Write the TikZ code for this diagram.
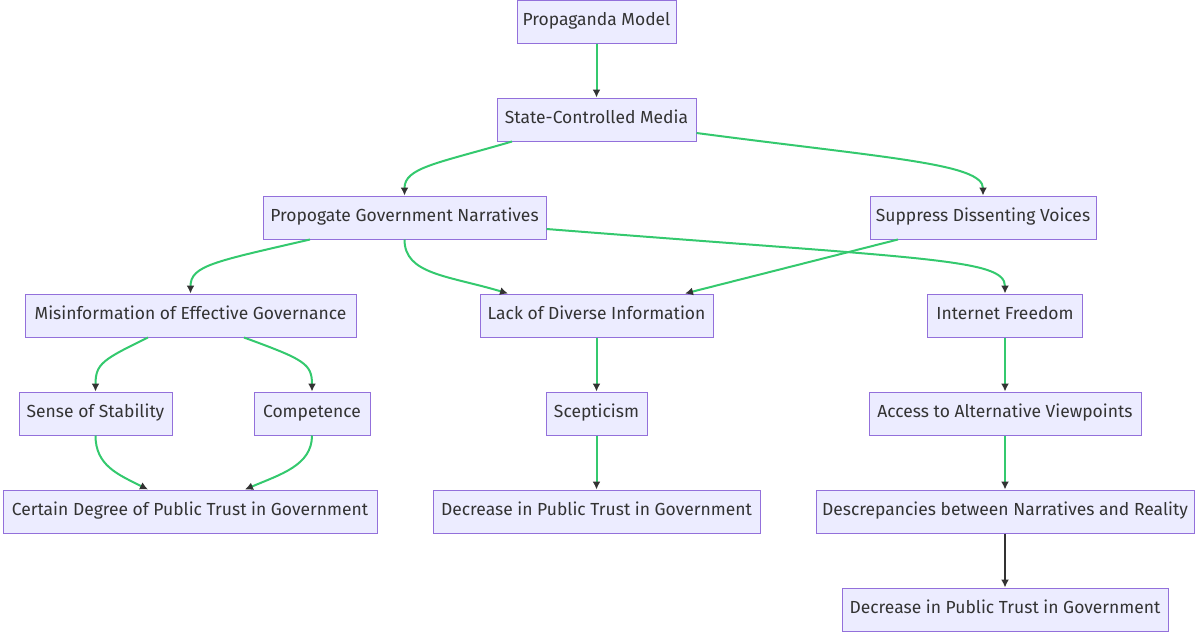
\documentclass[tikz,border=0pt]{standalone}
\usepackage{fontspec}
\setmainfont{Fira Sans}
\usetikzlibrary{arrows.meta,calc}
\definecolor{boxfill}{HTML}{ECECFF}
\definecolor{boxline}{HTML}{9370DB}
\definecolor{textc}{HTML}{333333}
\definecolor{edgec}{RGB}{52,201,110}
\definecolor{tipc}{HTML}{333333}
\tikzset{
  box/.style={draw=boxline, fill=boxfill, line width=0.75pt, minimum height=32.25pt,
    inner sep=0pt, text=textc, text height=9.5pt, text depth=3pt,
    font=\fontsize{13.1}{15}\selectfont},
  bw/.style={minimum width=#1*0.75pt},
  edge/.style={draw=edgec, line width=1.5pt, -{Latex[length=6pt,width=6pt,color=tipc]}},
  darkedge/.style={draw=tipc, line width=1.5pt, -{Latex[length=6pt,width=6pt,color=tipc]}},
}
\begin{document}
\begin{tikzpicture}[x=0.75pt,y=-0.75pt]
\useasboundingbox (0,0) rectangle (1195,632);
\node[box,bw=159] (pm) at (596.5,21.5) {Propaganda Model};
\node[box,bw=199] (scm) at (596.5,119.5) {State-Controlled Media};
\node[box,bw=283] (pgn) at (404.5,217.5) {Propogate Government Narratives};
\node[box,bw=226] (sdv) at (983,217.5) {Suppress Dissenting Voices};
\node[box,bw=331] (meg) at (190.5,315.5) {Misinformation of Effective Governance};
\node[box,bw=233] (ldi) at (596.5,315.5) {Lack of Diverse Information};
\node[box,bw=155] (inf) at (1005,315.5) {Internet Freedom};
\node[box,bw=153] (sos) at (95.5,413.5) {Sense of Stability};
\node[box,bw=116] (cmp) at (312,413.5) {Competence};
\node[box,bw=101] (scp) at (596.5,413.5) {Scepticism};
\node[box,bw=272] (aav) at (1005,413.5) {Access to Alternative Viewpoints};
\node[box,bw=374] (cdp) at (190,511.5) {Certain Degree of Public Trust in Government};
\node[box,bw=327] (dec1) at (596.5,511.5) {Decrease in Public Trust in Government};
\node[box,bw=378] (dsc) at (1005,511.5) {Descrepancies between Narratives and Reality};
\node[box,bw=326] (dec2) at (1005,609.5) {Decrease in Public Trust in Government};

\draw[edge] (pm) -- (scm);
\draw[edge] ($(scm.south)+(-84.5,0)$) .. controls +(-75,22) and +(0,-28) .. (pgn.north);
\draw[edge] ($(scm.east)+(0,13.5)$) .. controls +(190,25) and +(0,-32) .. (sdv.north);
\draw[edge] ($(pgn.south)+(-94.5,0)$) .. controls +(-95,22) and +(0,-28) .. (meg.north);
\draw[edge] (pgn.south) .. controls +(0,35) and +(-60,-18) .. ($(ldi.north)+(-88.5,0)$);
\draw[edge] ($(pgn.east)+(0,11.5)$) .. controls +(380,30) and +(0,-35) .. (inf.north);
\draw[edge] ($(sdv.south)+(-85,0)$) -- ($(ldi.north)+(88.5,0)$);
\draw[edge] ($(meg.south)+(-42.5,0)$) .. controls +(-45,22) and +(0,-28) .. (sos.north);
\draw[edge] ($(meg.south)+(53.5,0)$) .. controls +(60,22) and +(0,-28) .. (cmp.north);
\draw[edge] (ldi) -- (scp);
\draw[edge] (inf) -- (aav);
\draw[edge] (sos.south) .. controls +(0,30) and +(-30,-15) .. ($(cdp.north)+(-42,0)$);
\draw[edge] (cmp.south) .. controls +(0,30) and +(35,-15) .. ($(cdp.north)+(55,0)$);
\draw[edge] (scp) -- (dec1);
\draw[edge] (aav) -- (dsc);
\draw[darkedge] (dsc) -- (dec2);
\end{tikzpicture}
\end{document}
